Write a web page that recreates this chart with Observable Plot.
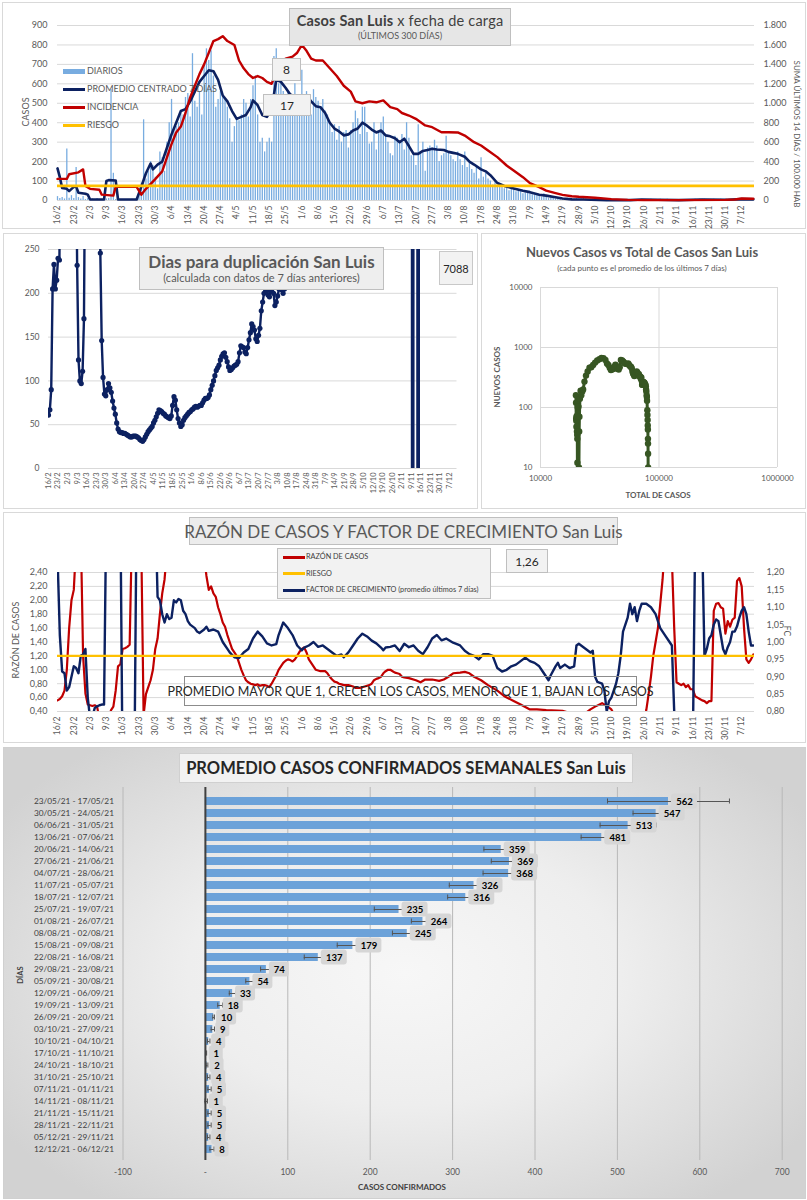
<!DOCTYPE html>
<html><head><meta charset="utf-8">
<script src="https://cdn.jsdelivr.net/npm/d3@7"></script>
<script src="https://cdn.jsdelivr.net/npm/@observablehq/plot@0.6"></script>
<style>
body{margin:0;background:#fff;font-family:Lato,"Liberation Sans",sans-serif;}
#root{position:relative;width:807px;height:1200px;overflow:hidden;background:#fff;}
#root svg{position:absolute;overflow:visible;}
</style></head><body><div id="root"></div><script>
// ---------------- DATA ----------------
// Panel 1: daily cases (from 16/2/2021, one value per day, 300 days)
const diarios = [
20,10,15,8,265,12,25, 10,170,15,8,20,5,10, 5,8,3,10,5,4,6, 8,10,570,140,5,3,4,
2,5,3,4,6,3,5, 60,90,415,110,150,200,180, 120,60,250,220,150,300,400, 520,360,380,400,450,440,530,
550,430,755,510,480,560,440, 700,780,720,770,640,480,520, 560,530,520,480,420,300,380, 420,410,440,520,500,430,520,
590,640,440,300,320,250,300, 320,300,740,780,600,640,560, 530,560,500,520,600,540,520, 670,500,560,540,440,570,530,
510,480,520,460,440,400,350, 390,310,380,300,350,360,270, 360,400,460,420,340,480,480, 350,290,300,400,260,350,400,
430,340,300,240,230,330,320, 300,340,260,400,320,230,240, 180,390,250,300,150,270,280, 270,310,280,200,230,240,330,
250,230,210,200,250,210,180, 250,170,190,160,140,170,110, 220,120,140,110,100,80,105, 70,80,75,60,65,50,60,
55,45,50,45,35,40,40, 35,30,28,25,20,18,35, 18,12,15,10,9,6,8, 10,8,12,9,7,8,10,
6,9,12,8,5,4,6, 3,5,4,2,4,3,2, 1,2,0,1,2,1,0, 2,3,1,2,4,2,1,
3,5,4,6,3,4,5, 6,4,5,7,3,4,2, 1,2,0,1,1,2,3, 5,6,4,7,5,6,5,
4,5,6,5,4,6,3, 4,5,3,4,5,4,6, 8,10,7,9,8,6];
// Promedio centrado 7 días (left axis)
const promedio = [["02-16",165],["02-17",120],["02-18",65],["02-20",60],["02-21",48],["02-23",70],["02-24",72],["02-25",40],["02-28",35],["03-01",30],["03-02",5],["03-08",5],["03-09",100],["03-10",105],["03-13",103],["03-14",5],["03-22",5],["03-24",70],["03-26",140],["03-28",190],["03-29",160],["03-31",185],["04-02",200],["04-04",270],["04-06",340],["04-08",400],["04-10",460],["04-12",470],["04-14",510],["04-16",560],["04-18",610],["04-20",640],["04-22",670],["04-24",665],["04-26",620],["04-28",540],["04-30",510],["05-02",460],["05-04",420],["05-06",430],["05-08",440],["05-10",480],["05-11",515],["05-13",490],["05-15",440],["05-17",430],["05-19",470],["05-21",620],["05-23",610],["05-25",580],["05-27",545],["05-29",535],["06-01",530],["06-03",540],["06-05",510],["06-07",485],["06-09",480],["06-11",450],["06-13",400],["06-15",370],["06-17",355],["06-19",335],["06-21",340],["06-23",360],["06-25",370],["06-27",400],["06-29",385],["07-01",365],["07-03",350],["07-05",360],["07-07",335],["07-09",330],["07-11",320],["07-13",300],["07-15",318],["07-17",280],["07-19",240],["07-21",240],["07-23",255],["07-25",260],["07-27",266],["07-29",262],["08-01",260],["08-03",250],["08-05",245],["08-07",240],["08-10",225],["08-12",200],["08-14",185],["08-17",160],["08-19",150],["08-21",130],["08-24",90],["08-27",75],["08-31",62],["09-04",50],["09-07",43],["09-11",30],["09-14",25],["09-18",17],["09-21",10],["09-25",6],["09-30",5],["10-10",2],["10-20",2],["10-25",5],["11-01",4],["11-10",2],["11-20",5],["12-01",4],["12-07",7],["12-12",6]];
// Incidencia: suma últimos 14 días / 100.000 hab (right axis)
const incidencia = [["02-16",222],["02-20",222],["02-21",270],["02-25",290],["02-27",320],["02-28",150],["03-02",120],["03-06",110],["03-07",60],["03-12",50],["03-13",140],["03-22",140],["03-24",60],["03-26",120],["03-30",220],["04-02",300],["04-04",440],["04-06",580],["04-08",700],["04-10",760],["04-12",900],["04-14",1060],["04-16",1180],["04-18",1300],["04-20",1400],["04-22",1520],["04-24",1640],["04-26",1660],["04-28",1690],["04-30",1640],["05-03",1600],["05-05",1440],["05-07",1360],["05-09",1300],["05-11",1260],["05-13",1280],["05-15",1260],["05-17",1220],["05-19",1200],["05-21",1320],["05-23",1420],["05-25",1460],["05-28",1480],["05-30",1520],["06-01",1600],["06-03",1540],["06-05",1460],["06-07",1440],["06-10",1440],["06-13",1360],["06-16",1280],["06-19",1180],["06-22",1120],["06-24",1020],["06-27",1000],["06-30",1020],["07-03",1010],["07-06",1030],["07-09",960],["07-12",940],["07-14",900],["07-17",874],["07-20",840],["07-24",772],["07-27",754],["07-31",702],["08-03",702],["08-07",700],["08-10",668],["08-14",600],["08-17",566],["08-20",514],["08-24",446],["08-28",360],["08-31",308],["09-04",240],["09-07",178],["09-11",138],["09-14",102],["09-18",76],["09-21",58],["09-25",44],["09-28",38],["10-05",28],["10-12",14],["10-19",6],["10-26",4],["11-09",4],["11-30",6],["12-04",10],["12-07",20],["12-12",18]];
const riesgoIncidencia = 150;
const annot1 = ["8", "17"];

// Panel 2: días para duplicación
const duplicacion = [["02-16",61],["02-17",67],["02-18",90],["02-19",205],["02-20",233],["02-21",205],["02-22",215],["02-23",240],["02-24",238],["02-25",420],["02-26",900],["02-28",1500],["03-03",3000],["03-06",1200],["03-08",400],["03-09",232],["03-10",124],["03-11",100],["03-12",97],["03-13",111],["03-14",171],["03-15",400],["03-18",2500],["03-22",1800],["03-25",420],["03-26",246],["03-27",146],["03-28",104],["03-29",85],["03-30",83],["03-31",90],["04-01",97],["04-02",92],["04-03",87],["04-04",77],["04-05",69],["04-06",62],["04-07",52],["04-08",45],["04-09",42],["04-10",41],["04-11",41],["04-12",40],["04-13",40],["04-14",39],["04-15",38],["04-16",37],["04-17",36],["04-18",36],["04-19",37],["04-20",37],["04-21",37],["04-22",36],["04-23",35],["04-24",33],["04-25",32],["04-26",31],["04-27",33],["04-28",36],["04-29",39],["04-30",42],["05-01",44],["05-02",46],["05-03",48],["05-04",52],["05-05",55],["05-06",59],["05-07",63],["05-08",67],["05-09",66],["05-10",65],["05-11",63],["05-12",62],["05-13",60],["05-14",59],["05-15",58],["05-16",57],["05-17",60],["05-18",72],["05-19",82],["05-20",78],["05-21",67],["05-22",57],["05-23",52],["05-24",48],["05-25",50],["05-26",55],["05-27",58],["05-28",60],["05-29",62],["05-30",64],["05-31",65],["06-01",67],["06-02",68],["06-03",70],["06-04",71],["06-05",70],["06-06",71],["06-07",72],["06-08",72],["06-09",75],["06-10",78],["06-11",80],["06-12",80],["06-13",81],["06-14",84],["06-15",90],["06-16",95],["06-17",100],["06-18",106],["06-19",112],["06-20",115],["06-21",118],["06-22",124],["06-23",128],["06-24",131],["06-25",132],["06-26",127],["06-27",122],["06-28",116],["06-29",112],["06-30",113],["07-01",115],["07-02",117],["07-03",118],["07-04",119],["07-05",122],["07-06",132],["07-07",140],["07-08",139],["07-09",138],["07-10",133],["07-11",131],["07-12",138],["07-13",147],["07-14",155],["07-15",165],["07-16",162],["07-17",158],["07-18",148],["07-19",145],["07-20",152],["07-21",160],["07-22",180],["07-23",190],["07-24",200],["07-25",205],["07-26",203],["07-27",198],["07-28",196],["07-29",203],["07-30",207],["07-31",200],["08-01",186],["08-02",190],["08-03",197],["08-04",205],["08-05",210],["08-06",204],["08-07",200],["08-08",205],["08-09",212],["08-10",230],["08-11",262],["08-13",300],["08-20",420],["09-01",800],["09-15",2000],["10-01",4500],["10-15",9000],["11-01",8000],["11-09",9000],["11-10",-9000],["11-11",9000],["11-13",9000],["11-14",-9000],["11-15",9000],["12-01",8000],["12-12",7088]];
const ultimoDuplicacion = "7088";

// Panel 3: total de casos vs nuevos casos (promedio 7 días)
const nuevosVsTotal = [[19900,160],[19950,120],[20000,65],[20050,60],[20100,48],[20150,70],[20250,72],[20300,40],[20400,35],[20450,30],[20480,12],[20500,8],[20550,6],[20600,100],[20750,105],[20900,103],[21000,8],[21050,5],[21100,10],[21200,40],[21300,70],[21500,140],[21800,190],[22100,160],[22500,185],[22900,200],[23500,270],[24200,340],[25000,400],[25900,460],[26800,470],[27800,510],[28900,560],[30100,610],[31400,640],[32700,670],[34000,665],[35300,620],[36400,540],[37400,510],[38400,460],[39300,420],[40100,430],[41000,440],[41900,480],[42900,515],[43900,490],[44800,440],[45700,430],[46600,470],[47700,620],[48900,610],[50100,580],[51200,545],[52300,535],[53900,530],[55000,540],[56000,510],[57000,485],[58000,480],[58900,450],[59700,400],[60500,370],[61200,355],[61900,335],[62600,340],[63300,360],[64000,370],[64800,400],[65600,385],[66300,365],[67000,350],[67700,360],[68400,335],[69100,330],[69700,320],[70300,300],[70900,318],[71500,280],[72000,240],[72500,240],[73000,255],[73500,260],[74000,266],[74500,262],[75300,260],[75800,250],[76300,245],[76800,240],[77400,225],[77800,200],[78200,185],[78700,160],[79000,150],[79300,130],[79700,90],[79900,75],[80200,62],[80400,50],[80550,43],[80700,30],[80800,25],[80900,17],[80950,10],[81000,6],[81050,4]];

// Panel 4: razón de casos (left axis) and factor de crecimiento (right axis)
const razon = [["02-16",0.56],["02-17",0.58],["02-18",0.62],["02-19",0.7],["02-20",1.0],["02-21",1.6],["02-22",2.0],["02-23",2.15],["02-24",2.8],["02-25",3.5],["02-26",3.0],["02-27",1.2],["02-28",0.66],["03-01",0.5],["03-02",0.49],["03-03",0.48],["03-04",0.49],["03-05",0.47],["03-06",0.3],["03-08",0.2],["03-10",0.3],["03-11",0.42],["03-12",0.47],["03-13",0.7],["03-14",1.05],["03-15",1.08],["03-16",1.3],["03-17",1.31],["03-18",1.33],["03-19",1.36],["03-20",3.0],["03-23",3.5],["03-24",2.8],["03-25",0.35],["03-26",0.65],["03-27",0.75],["03-28",0.85],["03-29",1.0],["03-30",1.3],["03-31",1.45],["04-01",1.8],["04-02",2.1],["04-03",2.3],["04-04",2.7],["04-10",3.5],["04-19",2.9],["04-21",2.35],["04-22",2.15],["04-23",2.2],["04-24",2.1],["04-25",2.05],["04-26",1.9],["04-27",1.8],["04-28",1.68],["04-29",1.62],["04-30",1.5],["05-01",1.4],["05-02",1.3],["05-03",1.25],["05-04",1.2],["05-05",1.1],["05-06",1.0],["05-07",0.92],["05-08",0.85],["05-09",0.82],["05-10",0.8],["05-11",0.79],["05-12",0.78],["05-13",0.79],["05-14",0.77],["05-15",0.78],["05-16",0.78],["05-17",0.77],["05-18",0.75],["05-19",0.8],["05-20",0.86],["05-21",0.92],["05-22",1.0],["05-23",1.05],["05-24",1.1],["05-25",1.13],["05-26",1.15],["05-27",1.14],["05-28",1.12],["05-29",1.15],["05-30",1.2],["05-31",1.26],["06-01",1.3],["06-02",1.32],["06-03",1.25],["06-04",1.15],["06-05",1.1],["06-06",1.05],["06-07",1.0],["06-08",0.99],["06-09",0.98],["06-10",0.98],["06-11",0.98],["06-12",0.95],["06-13",0.9],["06-14",0.86],["06-15",0.83],["06-16",0.82],["06-17",0.8],["06-18",0.79],["06-19",0.78],["06-20",0.78],["06-21",0.78],["06-22",0.77],["06-23",0.76],["06-24",0.74],["06-26",0.74],["06-28",0.76],["06-30",0.78],["07-01",0.8],["07-02",0.85],["07-03",0.87],["07-04",0.88],["07-05",0.9],["07-06",0.95],["07-07",0.98],["07-08",1.0],["07-09",1.0],["07-10",0.98],["07-11",0.96],["07-12",0.95],["07-13",0.94],["07-14",0.9],["07-15",0.89],["07-17",0.88],["07-20",0.85],["07-22",0.82],["07-24",0.86],["07-27",0.86],["07-30",0.84],["08-01",0.86],["08-03",0.9],["08-05",0.95],["08-08",0.96],["08-10",0.97],["08-12",0.95],["08-14",0.9],["08-17",0.85],["08-20",0.78],["08-24",0.7],["08-27",0.62],["08-31",0.55],["09-03",0.5],["09-07",0.43],["09-10",0.43],["09-14",0.42],["09-21",0.41],["09-24",0.38],["09-28",0.3],["10-01",0.38],["10-03",0.43],["10-05",0.47],["10-08",0.52],["10-10",0.48],["10-12",0.43],["10-14",0.3],["10-20",0.1],["10-26",0.3],["10-27",0.42],["10-28",0.65],["10-29",0.9],["10-30",1.2],["10-31",1.4],["11-01",1.6],["11-02",1.95],["11-03",2.3],["11-04",2.8],["11-06",3.0],["11-07",2.6],["11-08",1.6],["11-09",0.82],["11-10",0.8],["11-11",0.78],["11-12",0.8],["11-13",0.75],["11-14",0.78],["11-15",0.72],["11-16",0.72],["11-17",0.62],["11-18",0.6],["11-19",0.58],["11-20",0.56],["11-21",0.55],["11-22",0.52],["11-23",0.55],["11-24",0.55],["11-25",1.85],["11-26",1.95],["11-27",1.96],["11-28",1.9],["11-29",1.88],["11-30",1.52],["12-01",1.7],["12-02",1.62],["12-03",1.72],["12-04",1.75],["12-05",2.28],["12-06",2.32],["12-07",2.2],["12-08",1.6],["12-09",1.15],["12-10",1.1],["12-11",1.15],["12-12",1.22]];
const factor = [["02-16",1.25],["02-17",1.02],["02-18",0.915],["02-19",0.91],["02-20",0.86],["02-21",0.87],["02-22",0.9],["02-23",0.93],["02-24",0.925],["02-25",0.91],["02-26",0.96],["02-27",0.964],["02-28",0.98],["03-01",0.84],["03-02",0.78],["03-03",0.785],["03-04",0.81],["03-05",0.815],["03-06",0.818],["03-07",0.82],["03-08",0.82],["03-09",1.4],["03-15",1.4],["03-16",0.6],["03-21",0.6],["03-22",1.4],["03-30",1.4],["03-31",1.13],["04-01",1.12],["04-02",1.08],["04-03",1.056],["04-04",1.08],["04-05",1.066],["04-06",1.07],["04-07",1.12],["04-08",1.114],["04-09",1.124],["04-10",1.12],["04-11",1.09],["04-12",1.08],["04-13",1.06],["04-14",1.05],["04-16",1.04],["04-17",1.03],["04-18",1.026],["04-20",1.036],["04-21",1.044],["04-22",1.032],["04-24",1.036],["04-26",1.03],["04-28",1.0],["04-30",0.98],["05-01",0.97],["05-03",0.956],["05-05",0.954],["05-07",0.97],["05-09",0.98],["05-11",1.01],["05-13",1.03],["05-15",1.016],["05-17",0.996],["05-19",0.99],["05-21",0.994],["05-22",1.02],["05-24",1.056],["05-26",1.04],["05-28",1.02],["05-30",0.99],["06-01",0.976],["06-02",0.984],["06-04",0.99],["06-06",1.0],["06-08",0.986],["06-10",0.99],["06-12",0.98],["06-14",0.97],["06-16",0.96],["06-18",0.964],["06-19",0.956],["06-21",0.97],["06-23",0.99],["06-25",1.01],["06-27",1.024],["06-29",1.016],["07-01",1.004],["07-03",0.996],["07-05",0.984],["07-06",0.976],["07-07",0.984],["07-09",0.986],["07-11",0.99],["07-13",0.974],["07-15",0.995],["07-17",0.985],["07-19",0.99],["07-21",0.975],["07-23",0.965],["07-25",0.985],["07-27",1.01],["07-29",1.02],["07-31",1.005],["08-02",1.01],["08-05",0.998],["08-08",0.99],["08-10",0.975],["08-12",0.965],["08-14",0.96],["08-16",0.95],["08-18",0.965],["08-20",0.965],["08-22",0.96],["08-24",0.925],["08-26",0.915],["08-28",0.92],["08-30",0.93],["09-01",0.935],["09-03",0.945],["09-05",0.955],["09-07",0.945],["09-09",0.94],["09-11",0.93],["09-13",0.91],["09-15",0.89],["09-16",0.905],["09-18",0.93],["09-19",0.94],["09-20",0.925],["09-22",0.935],["09-24",0.925],["09-26",0.93],["09-27",0.99],["09-28",0.995],["10-01",0.98],["10-03",0.97],["10-04",0.975],["10-05",0.9],["10-06",0.885],["10-08",0.88],["10-09",0.86],["10-10",0.8],["10-11",0.83],["10-12",0.84],["10-14",0.88],["10-15",0.91],["10-16",0.96],["10-17",1.03],["10-19",1.07],["10-20",1.11],["10-21",1.08],["10-22",1.1],["10-23",1.06],["10-24",1.09],["10-25",1.11],["10-27",1.11],["10-29",1.1],["10-31",1.08],["11-02",1.04],["11-03",1.03],["11-04",1.02],["11-06",1.0],["11-07",0.99],["11-08",0.8],["11-09",0.7],["11-16",0.7],["11-17",1.3],["11-20",1.3],["11-21",0.96],["11-22",0.98],["11-23",1.01],["11-24",1.02],["11-25",1.05],["11-26",1.065],["11-27",1.06],["11-28",1.02],["11-29",0.98],["11-30",0.965],["12-01",0.985],["12-02",1.0],["12-03",1.03],["12-04",1.03],["12-05",1.045],["12-06",1.07],["12-07",1.09],["12-08",1.1],["12-09",1.08],["12-10",1.03],["12-11",0.99],["12-12",0.99]];
const riesgoRazon = 1.2;
const ultimoFactor = "1,26";

// Panel 5: promedio casos confirmados semanales
const semanas = ["23/05/21 - 17/05/21","30/05/21 - 24/05/21","06/06/21 - 31/05/21","13/06/21 - 07/06/21","20/06/21 - 14/06/21","27/06/21 - 21/06/21","04/07/21 - 28/06/21","11/07/21 - 05/07/21","18/07/21 - 12/07/21","25/07/21 - 19/07/21","01/08/21 - 26/07/21","08/08/21 - 02/08/21","15/08/21 - 09/08/21","22/08/21 - 16/08/21","29/08/21 - 23/08/21","05/09/21 - 30/08/21","12/09/21 - 06/09/21","19/09/21 - 13/09/21","26/09/21 - 20/09/21","03/10/21 - 27/09/21","10/10/21 - 04/10/21","17/10/21 - 11/10/21","24/10/21 - 18/10/21","31/10/21 - 25/10/21","07/11/21 - 01/11/21","14/11/21 - 08/11/21","21/11/21 - 15/11/21","28/11/21 - 22/11/21","05/12/21 - 29/11/21","12/12/21 - 06/12/21"];
const promSemanal = [562,547,513,481,359,369,368,326,316,235,264,245,179,137,74,54,33,18,10,9,4,1,2,4,5,1,5,5,4,8];
const errorSemanal = [74,28,34,25,21,22,31,30,22,30,14,18,19,17,7,5,4,3,1,2,1.5,0.5,1,1.5,2,1.5,2,2,1.5,2.5];

// ---------------- HELPERS ----------------
const FONT = "Lato, 'Liberation Sans', sans-serif";
const navy = "#0c2161", red = "#c00000", yellow = "#ffc000", gray = "#595959";
const root = document.getElementById("root");
const D = md => new Date(`2021-${md}T00:00:00Z`);
const start = D("02-16");
const xDomain = [start, new Date(Date.UTC(2021, 11, 12, 12))];
const weekTicks = d3.range(43).map(i => d3.utcDay.offset(start, 7 * i));
const fmtDM = d => `${d.getUTCDate()}/${d.getUTCMonth() + 1}`;
const fmtK = n => d3.format(",")(n).replace(/,/g, ".");
const fmtC2 = n => n.toFixed(2).replace(".", ",");
const pairs = arr => arr.map(([md, v]) => ({date: D(md), v}));
const baseStyle = fs => ({fontFamily: FONT, fontSize: fs, color: gray, background: "transparent", overflow: "visible"});

function place(el, left, top) { el.style.left = left + "px"; el.style.top = top + "px"; root.appendChild(el); return el; }
function box(l, t, w, h, html, css = "") {
  const e = document.createElement("div");
  e.style.cssText = `position:absolute;left:${l}px;top:${t}px;width:${w}px;height:${h}px;box-sizing:border-box;${css}`;
  e.innerHTML = html; root.appendChild(e); return e;
}
function label(cx, cy, text, css = "", rot = 0) {
  const e = document.createElement("div");
  e.style.cssText = `position:absolute;left:${cx}px;top:${cy}px;transform:translate(-50%,-50%) rotate(${rot}deg);white-space:nowrap;color:${gray};${css}`;
  e.textContent = text; root.appendChild(e); return e;
}
const grayBox = "background:#ececec;border:1px solid #bfbfbf;color:#595959;display:flex;flex-direction:column;align-items:center;justify-content:center;text-align:center;white-space:nowrap;";

// panel frames
box(2, 2, 804, 227, "", "border:1px solid #d9d9d9;");
box(3, 233, 475, 276, "", "border:1px solid #d9d9d9;");
box(481, 233, 325, 276, "", "border:1px solid #d9d9d9;");
box(3, 512, 803, 231, "", "border:1px solid #d9d9d9;");
box(3, 747, 803, 452, "", "border:1px solid #d0d0d0;background:radial-gradient(ellipse 60% 65% at 50% 50%, #f7f7f7 0%, #eeeeee 45%, #d2d2d2 100%);");

// ---------------- PANEL 1 ----------------
const diariosData = diarios.map((v, i) => ({date: d3.utcDay.offset(start, i), v}));
const p1 = Plot.plot({
  width: 807, height: 230, marginLeft: 57, marginRight: 53, marginTop: 25, marginBottom: 30,
  style: baseStyle("8.5px"),
  x: {type: "utc", domain: xDomain},
  y: {domain: [0, 900]},
  marks: [
    Plot.gridY(d3.range(0, 901, 100), {stroke: "#d9d9d9", strokeOpacity: 1}),
    Plot.ruleX(diariosData, {x: "date", y1: 0, y2: "v", stroke: "#78ace0", strokeWidth: 1.3}),
    Plot.line(pairs(promedio), {x: "date", y: "v", stroke: navy, strokeWidth: 2.6}),
    Plot.line(pairs(incidencia), {x: "date", y: d => d.v / 2, stroke: red, strokeWidth: 2.4}),
    Plot.ruleY([riesgoIncidencia / 2], {stroke: yellow, strokeWidth: 2.6}),
    Plot.axisY(d3.range(0, 901, 100), {anchor: "left", tickSize: 0, tickPadding: 10, fontSize: 9, label: null}),
    Plot.axisY(d3.range(0, 901, 100), {anchor: "right", tickSize: 0, tickPadding: 9, fontSize: 9, label: null, tickFormat: d => fmtK(2 * d)}),
    Plot.axisX(weekTicks, {tickFormat: fmtDM, tickRotate: -90, tickSize: 0, tickPadding: 5, label: null})
  ]
});
place(p1, 0, 0);
box(289, 8, 222, 38, `<div style="font-size:14.5px;color:#404040;letter-spacing:0.2px"><b>Casos San Luis</b> x fecha de carga</div><div style="font-size:9px;margin-top:2px">(ÚLTIMOS 300 DÍAS)</div>`, grayBox + "background:#e6e6e6;line-height:1.1;");
box(272, 58, 29, 23, annot1[0], grayBox + "background:#f2f2f2;color:#262626;font-size:12px;");
box(263, 94, 48, 22, annot1[1], grayBox + "background:#f2f2f2;color:#262626;font-size:12px;");
label(25, 112, "CASOS", "font-size:9px;", -90);
label(797, 134, "SUMA  ÚLTIMOS 14 DÍAS / 100.000 HAB", "font-size:8px;", 90);
// legend
const leg1 = [["DIARIOS", "#78ace0", 5], ["PROMEDIO CENTRADO 7 DÍAS", navy, 3], ["INCIDENCIA", red, 3], ["RIESGO", yellow, 3]];
leg1.forEach(([t, c, h], i) => {
  const y = 71 + i * 18;
  box(63, y - h / 2, 22, h, "", `background:${c};`);
  box(87, y - 7, 160, 14, t, `font-size:9px;color:${gray};line-height:14px;white-space:nowrap;`);
});

// ---------------- PANEL 2 ----------------
const dupData = pairs(duplicacion);
const p2 = Plot.plot({
  width: 480, height: 280, marginLeft: 48, marginRight: 23.5, marginTop: 19, marginBottom: 42,
  style: baseStyle("7.5px"),
  x: {type: "utc", domain: xDomain},
  y: {domain: [0, 250]},
  marks: [
    Plot.gridY(d3.range(0, 251, 50), {stroke: "#d9d9d9", strokeOpacity: 1}),
    Plot.line(dupData, {x: "date", y: "v", stroke: navy, strokeWidth: 2.4, clip: true}),
    Plot.dot(dupData, {x: "date", y: "v", r: 2.6, fill: navy, clip: true}),
    Plot.axisY(d3.range(0, 251, 50), {tickSize: 0, tickPadding: 9, fontSize: 8.5, label: null}),
    Plot.axisX(weekTicks, {tickFormat: fmtDM, tickRotate: -90, tickSize: 0, tickPadding: 4, label: null})
  ]
});
place(p2, 0, 230);
box(139, 247, 245, 43, `<div style="font-size:17px;font-weight:bold;color:#595959">Dias para duplicación San Luis</div><div style="font-size:11px;margin-top:1px">(calculada con datos de 7 días anteriores)</div>`, grayBox + "background:#eeeeee;line-height:1.15;");
box(439, 251, 34, 34, ultimoDuplicacion, grayBox + "background:#f2f2f2;color:#262626;font-size:11px;border-color:#c8c8c8;");

// ---------------- PANEL 3 ----------------
const p3 = Plot.plot({
  width: 329, height: 280, marginLeft: 62, marginRight: 30, marginTop: 57, marginBottom: 43,
  style: baseStyle("8px"),
  x: {type: "log", domain: [1e4, 1e6]},
  y: {type: "log", domain: [10, 1e4]},
  marks: [
    Plot.gridX([1e4, 1e5, 1e6], {stroke: "#d9d9d9", strokeOpacity: 1}),
    Plot.gridY([10, 100, 1000, 10000], {stroke: "#d9d9d9", strokeOpacity: 1}),
    Plot.line(nuevosVsTotal, {x: d => d[0], y: d => d[1], stroke: "#375623", strokeWidth: 3, clip: true}),
    Plot.dot(nuevosVsTotal, {x: d => d[0], y: d => d[1], r: 3.2, fill: "#375623", clip: true}),
    Plot.axisY([10, 100, 1000, 10000], {tickFormat: d => String(d), tickSize: 0, tickPadding: 8, label: null}),
    Plot.axisX([1e4, 1e5, 1e6], {tickFormat: d => String(d), tickSize: 0, tickPadding: 8, label: null})
  ]
});
place(p3, 478, 230);
label(642, 252, "Nuevos Casos vs Total de Casos San Luis", "font-size:13px;font-weight:bold;");
label(642, 268, "(cada punto es el promedio de los últimos 7 días)", "font-size:8px;");
label(497, 377, "NUEVOS CASOS", "font-size:8px;font-weight:bold;", -90);
label(658, 495, "TOTAL DE CASOS", "font-size:8px;font-weight:bold;");

// ---------------- PANEL 4 ----------------
const leftTicks4 = d3.range(11).map(i => 0.4 + 0.2 * i);
const fcTicks = d3.range(9).map(i => 0.8 + 0.05 * i);
const fcToL = f => (f - 0.72) / 0.2;
const p4 = Plot.plot({
  width: 807, height: 231, marginLeft: 57, marginRight: 53, marginTop: 60, marginBottom: 32,
  style: baseStyle("8.5px"),
  x: {type: "utc", domain: xDomain},
  y: {domain: [0.4, 2.4]},
  marks: [
    Plot.gridY(leftTicks4, {stroke: "#d9d9d9", strokeOpacity: 1}),
    Plot.line(pairs(razon), {x: "date", y: "v", stroke: red, strokeWidth: 2.2, clip: true}),
    Plot.line(pairs(factor), {x: "date", y: d => fcToL(d.v), stroke: navy, strokeWidth: 2.4, clip: true}),
    Plot.ruleY([riesgoRazon], {stroke: yellow, strokeWidth: 2.4}),
    Plot.axisY(leftTicks4, {anchor: "left", tickSize: 0, tickPadding: 10, fontSize: 9, label: null, tickFormat: fmtC2}),
    Plot.axisY(fcTicks.map(fcToL), {anchor: "right", tickSize: 0, tickPadding: 12, fontSize: 9, label: null, tickFormat: l => fmtC2(0.72 + 0.2 * l)}),
    Plot.axisX(weekTicks, {tickFormat: fmtDM, tickRotate: -90, tickSize: 0, tickPadding: 5, label: null})
  ]
});
place(p4, 0, 512);
box(189, 517, 429, 28, "RAZÓN DE CASOS Y FACTOR DE CRECIMIENTO San Luis", grayBox + "font-size:17px;color:#595959;");
box(277, 548, 214, 51, "", "background:#f2f2f2;border:1px solid #bfbfbf;");
[["RAZÓN DE CASOS", red], ["RIESGO", yellow], ["FACTOR DE CRECIMIENTO (promedio últimos 7 días)", navy]].forEach(([t, c], i) => {
  const y = 557 + i * 16.5;
  box(283, y - 1.5, 22, 3, "", `background:${c};`);
  box(306, y - 6, 185, 12, t, `font-size:7.3px;color:#404040;line-height:12px;white-space:nowrap;`);
});
box(506, 549, 42, 24, ultimoFactor, grayBox + "background:#f2f2f2;color:#262626;font-size:12px;");
box(184, 676, 453, 30, "PROMEDIO MAYOR QUE 1, CRECEN LOS CASOS, MENOR QUE 1, BAJAN LOS CASOS", "border:1px solid #8c8c8c;color:#262626;font-size:12.5px;display:flex;align-items:center;justify-content:center;white-space:nowrap;");
label(15, 640, "RAZÓN DE CASOS", "font-size:9px;", -90);
label(787, 631, "FC", "font-size:8.5px;", 90);

// ---------------- PANEL 5 ----------------
const semData = semanas.map((s, i) => ({s, v: promSemanal[i], e: errorSemanal[i]}));
const kx = (781.7 - 122.5) / 800; // px per case
const lblW = d => 8 + 6 * String(d.v).length;
const p5 = Plot.plot({
  width: 807, height: 455, marginLeft: 122.5, marginRight: 25.3, marginTop: 42, marginBottom: 40,
  style: baseStyle("8.5px"),
  x: {domain: [-100, 700]},
  y: {domain: semanas, range: [43.8, 415.2], paddingInner: 0.35, paddingOuter: 0.175},
  marks: [
    Plot.gridX(d3.range(-100, 701, 100), {stroke: "#b8b8b8", strokeOpacity: 1}),
    Plot.barX(semData, {y: "s", x: "v", fill: "#6ca2d9"}),
    Plot.ruleY(semData, {y: "s", x1: d => d.v - d.e, x2: d => d.v + d.e, stroke: "#555", strokeWidth: 1}),
    Plot.tickX(semData, {y: "s", x: d => d.v - d.e, stroke: "#555", strokeWidth: 1, insetTop: 1.5, insetBottom: 1.5}),
    Plot.tickX(semData, {y: "s", x: d => d.v + d.e, stroke: "#555", strokeWidth: 1, insetTop: 1.5, insetBottom: 1.5}),
    Plot.ruleX([0], {stroke: "#404040", strokeWidth: 2}),
    Plot.rect(semData, {y: "s", x1: d => d.v + 3 / kx, x2: d => d.v + (3 + lblW(d)) / kx, fill: "#d6d6d6", insetTop: -3.5, insetBottom: -3.5, rx: 3}),
    Plot.text(semData, {y: "s", x: d => d.v + (3 + lblW(d) / 2) / kx, text: d => String(d.v), fontWeight: "bold", fontSize: 9.5, fill: "#000"}),
    Plot.axisY({tickSize: 0, tickPadding: 9, fontSize: 8.3, label: null, color: "#404040"}),
    Plot.axisX(d3.range(-100, 701, 100), {tickFormat: d => d === 0 ? "-" : String(d), tickSize: 0, tickPadding: 8, label: null})
  ]
});
place(p5, 0, 745);
box(179, 753, 454, 30, "PROMEDIO CASOS CONFIRMADOS SEMANALES San Luis", grayBox + "background:#f2f2f2;border-color:#d0d0d0;font-size:16.5px;font-weight:bold;color:#262626;");
label(20, 975, "DÍAS", "font-size:7.5px;font-weight:bold;color:#404040;", -90);
label(402, 1187, "CASOS CONFIRMADOS", "font-size:8px;font-weight:bold;color:#404040;");
</script></body></html>
